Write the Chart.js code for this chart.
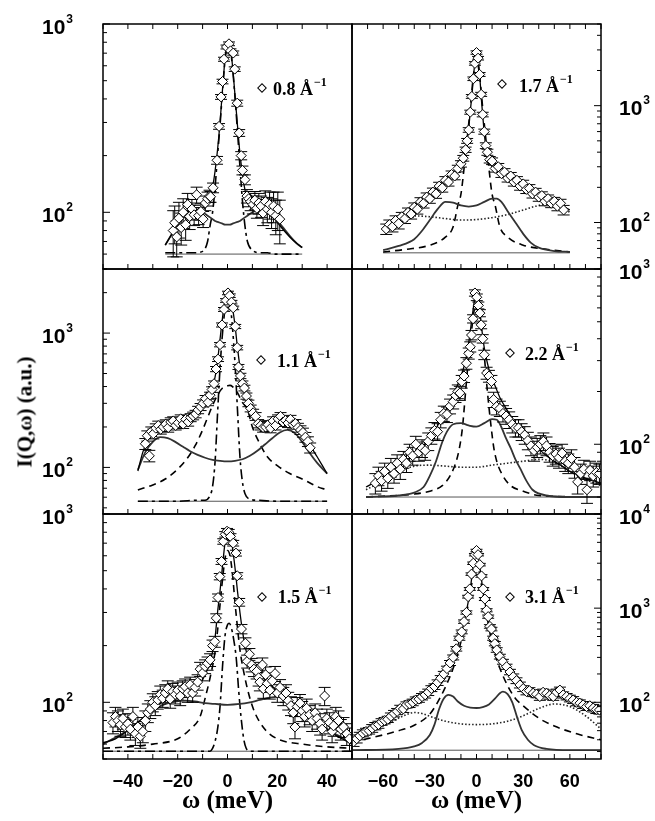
<!DOCTYPE html>
<html>
<head>
<meta charset="utf-8">
<script src="https://cdn.jsdelivr.net/npm/chart.js@4.4.0/dist/chart.umd.min.js"></script>
<style>
body { margin: 0; background: #fff; }
#wrap { position: relative; width: 655px; height: 821px; overflow: hidden; }
#wrap canvas { position: absolute; left: 0; top: 0; }
.lab { position: absolute; white-space: nowrap; color: #000; }
.yt { font: bold 21px/21px "Liberation Sans", Arial, sans-serif; }
.yt sup { font-size: 12px; vertical-align: baseline; position: relative; top: -11px; margin-left: 1px; }
.xt { font: bold 18px/18px "Liberation Sans", Arial, sans-serif; transform: translateX(-50%); }
.ttl { font: bold 25px/25px "Liberation Serif", "Times New Roman", serif; transform: translateX(-50%); }
.ytl { font: bold 21px/21px "Liberation Serif", "Times New Roman", serif; transform: translate(-50%, -50%) rotate(-90deg); }
.ql { font: bold 18px/18px "Liberation Serif", "Times New Roman", serif; }
.ql sup { font-size: 12px; vertical-align: baseline; position: relative; top: -9px; margin-left: 1px; }
.dia { position: absolute; width: 7px; height: 7px; box-sizing: border-box; border: 1.2px solid #000; background: #fff; transform: translate(-50%, -50%) rotate(45deg); }
</style>
</head>
<body>
<div id="wrap"></div>
<script>
// tick labels
var xTicksL = [-40, -20, 0, 20, 40];
var xTicksR = [-60, -30, 0, 30, 60];
var decades = [1, 2, 3, 4];

// ---- Q = 0.8
var p08W = [-21.8,-21.2,-20.4,-19.5,-18.6,-17.8,-16.8,-16.0,-15.2,-14.3,-13.4,-12.4,-11.6,-10.7,-9.8,-8.9,-8.0,-7.2,-6.8,-5.8,-4.2,-3.4,-2.6,-2.0,-1.4,-0.4,0.6,1.2,2.3,2.9,3.9,4.7,5.5,6.0,7.0,7.8,8.5,9.3,10.2,11.0,11.8,12.6,13.5,14.3,15.2,16.0,16.9,17.7,18.5,19.4,20.2,21.0];
var p08I = [80,88,74,93,83,100,86,110,95,104,97,124,96,101,92,112,118,122,121,135,189,286,410,495,650,755,785,720,701,576,380,264,200,167,149,122,118,114,110,116,105,112,108,99,114,104,110,100,108,96,104,92];
var p08E = [22,20,16,20,16,18,15,16,14,13,12,12,10,10,9,10,10,9,8,8,9,10,12,14,16,18,18,18,18,16,14,11,10,9,9,10,11,12,12,13,12,14,14,14,16,16,18,18,20,20,24,24];
var p08FitW = [-25,-22,-19,-16,-13,-10,-8,-7,-6,-5,-4,-3,-2,-1,0,1,2,3,4,5,6,7,8,10,13,16,19,22,25,28,30];
var p08Fit = [67,78,90,101,104,103,110,118,135,165,215,300,450,650,780,770,600,420,290,205,160,132,118,107,105,101,92,82,74,68,65];
var p08Dho = [67,78,90,100,103,100,96,94,92,90,89,88,87,86,86,86,87,88,89,90,92,94,96,100,103,102,94,84,75,68,65];
var p08El = [61,61,61,61,61,62,70,85,100,135,200,290,440,640,760,750,590,410,270,175,115,85,70,63,61,61,60,60,60,60,60];
var p08BgW = [-25, 30];
var p08Bg = [60, 60];

// ---- Q = 1.7
var p17W = [-58,-56,-54,-52,-50,-48,-46,-44,-42,-40,-38,-36,-34,-32,-30,-28,-26,-24,-22,-20,-18,-16,-14,-12,-10,-8.5,-7,-6,-5,-4,-3,-2,-1,0,1,2,3,4,5,6,7,8.5,10,12,14,16,18,20,22,24,26,28,30,32,34,36,38,40,42,44,46,48,50,52,54,56];
var p17I = [88,96,92,104,98,112,108,122,118,135,130,150,146,165,160,182,176,205,198,230,222,258,250,290,318,355,420,500,620,880,1200,1700,2300,2850,2550,1850,1250,840,600,455,400,345,335,290,300,262,270,240,250,222,230,205,214,192,196,176,182,165,170,152,160,146,152,138,146,128];
var p17E = [9,9,9,10,10,10,10,11,11,12,12,13,13,14,14,15,15,16,16,17,17,18,18,19,20,20,22,24,28,35,45,60,80,95,90,70,50,38,30,26,24,22,22,20,20,19,19,18,18,17,17,16,16,15,15,14,14,13,13,13,12,12,12,12,12,12];
var p17FitW = [-60,-55,-50,-45,-40,-35,-30,-25,-20,-16,-12,-10,-8,-6,-5,-4,-3,-2,-1,0,1,2,3,4,5,6,8,10,12,16,20,25,30,35,40,45,50,55,60];
var p17Fit = [90,102,114,127,140,158,175,200,228,255,285,310,360,520,640,900,1200,1750,2350,2800,2500,1850,1200,820,580,440,340,300,280,260,245,220,205,185,170,155,145,138,128];
var p17DhoW = [-60,-50,-40,-35,-30,-25,-20,-15,-10,-5,0,5,10,13,16,20,25,30,35,40,50,60];
var p17Dho = [58,63,72,85,105,130,150,148,140,137,140,150,160,160,150,125,100,80,67,61,57,56];
var p17DashW = [-60,-45,-30,-20,-15,-12,-10,-8,-6,-4,-2,0,2,4,6,8,10,12,15,20,30,45,60];
var p17Dash = [56,59,64,75,92,140,175,290,520,950,1800,2500,1800,950,520,290,175,140,92,75,64,59,56];
var p17DotW = [-60,-55,-50,-45,-40,-30,-20,-10,0,10,20,30,40,45,50,55,60];
var p17Dot = [88,100,108,113,114,112,108,105,106,110,117,128,140,143,142,136,122];
var p17BgW = [-60, 60];
var p17Bg = [55, 55];

// ---- Q = 1.1
var p11W = [-33,-32.2,-31.4,-30.6,-29.8,-28.8,-27.8,-26.8,-25.8,-24.8,-23.8,-22.8,-21.8,-20.8,-19.8,-18.8,-17.8,-16.8,-15.8,-14.8,-13.8,-12.8,-11.8,-10.8,-9.8,-8.8,-7.8,-7,-6.2,-5.4,-4.6,-3.8,-3,-2.2,-1.4,-0.6,0.2,0.9,1.6,2.3,3.1,3.9,4.4,5.2,6,6.8,7.6,8.4,9.3,10.3,11.3,12.3,13.3,14.3,15.3,16.3,17.3,18.3,19.3,20.3,21.3,22.3,23.3,24.3,25.3,26.3,27.3,28.3,29.3,30.3,31.3,32.3,33.2];
var p11I = [150,172,122,185,178,196,205,192,200,210,198,218,222,205,215,230,210,228,218,235,242,250,268,282,300,325,305,345,380,420,540,640,820,1150,1500,1750,1990,1900,1700,1540,1120,780,560,480,420,390,340,300,275,255,240,212,205,198,200,208,196,222,205,230,240,218,224,214,228,208,212,198,190,182,168,156,140];
var p11E = [14,15,12,15,15,15,16,15,15,16,15,16,16,15,16,16,15,16,15,16,16,16,17,17,18,18,17,18,18,20,24,26,30,40,50,55,60,58,52,48,40,30,24,22,20,19,18,17,16,16,16,15,15,15,15,15,15,16,15,16,16,16,16,16,16,15,15,15,14,14,14,13,12];
var p11FitW = [-36,-34,-32,-30,-27,-24,-21,-18,-15,-12,-10,-8,-6,-5,-4,-3,-2,-1,0,1,2,3,4,5,6,7,8,10,12,15,18,21,24,27,30,32,34,36,38,40];
var p11Fit = [94,130,160,180,198,207,215,222,232,255,280,320,400,470,620,900,1300,1750,1950,1900,1550,1150,780,560,430,360,310,260,225,205,205,212,212,205,190,160,138,120,104,90];
var p11DhoW = [-36,-33,-30,-27,-24,-21,-18,-15,-12,-9,-6,-3,0,3,6,9,12,15,18,21,24,27,30,33,36,40];
var p11Dho = [96,130,155,168,165,155,143,132,124,118,114,112,111,112,115,122,133,148,165,182,190,180,155,128,108,90];
var p11DashW = [-36,-30,-25,-20,-16,-13,-10,-8,-6,-4,-2,0,1,2,4,6,8,10,13,16,20,25,30,36,40];
var p11Dash = [68,74,82,97,118,145,190,235,290,345,390,405,408,400,360,305,270,200,150,120,103,90,82,72,68];
var p11ElW = [-36,-20,-12,-9,-7,-6,-5,-4,-3,-2,-1,0,1,2,3,4,5,6,7,9,12,20,40];
var p11El = [56,56,57,57,62,72,110,250,550,1000,1500,1750,1650,1100,600,270,120,78,64,58,57,56,56];
var p11BgW = [-36, 40];
var p11Bg = [56, 56];

// ---- Q = 2.2
var p22W = [-65,-63,-61,-59,-57,-55,-53,-51,-49,-47,-45,-43,-41,-39,-37,-35,-33,-31,-29,-27,-25,-23,-21,-19,-17,-15,-13.5,-12,-10.7,-9.5,-8,-6.5,-5,-4,-3.2,-2.2,-1,0.2,1.2,2.2,3,4,5,6.5,8,9.6,11,12.9,15,17,19,21,23,25,27,29,31,33,35,37,39,41,43,45,47,49,51,53,55,57,59,61,63,65,67,69,71,73,75,77,79];
var p22I = [60,66,62,70,64,74,68,78,72,82,78,90,86,100,90,95,92,104,112,120,118,138,150,148,165,175,190,200,196,228,245,290,330,360,420,520,730,690,620,560,480,400,324,255,245,228,180,164,160,150,145,138,130,124,124,118,113,105,98,92,96,100,104,98,90,86,88,84,89,80,78,83,74,61,68,72,55,71,66,69,68];
var p22E = [8,8,8,8,8,9,8,9,9,9,9,10,10,11,10,11,11,12,12,13,13,14,15,15,16,16,17,18,18,19,20,22,24,24,26,28,30,30,28,26,24,22,20,20,19,19,18,17,16,16,15,15,14,14,14,13,13,12,12,12,12,12,12,12,11,11,11,11,11,10,10,10,10,9,9,9,9,9,9,9,9];
var p22FitW = [-71,-65,-60,-55,-50,-45,-40,-35,-30,-25,-20,-15,-12,-9,-7,-5,-4,-3,-2,-1,0,1,2,3,4,5,7,9,12,15,20,25,30,35,40,45,50,55,60,65,70,75,80];
var p22Fit = [57,61,65,70,75,81,88,97,107,128,155,192,220,260,300,380,440,520,600,690,720,690,600,490,410,355,290,250,215,185,155,132,116,103,94,86,80,75,70,67,64,62,60];
var p22DhoW = [-71,-50,-40,-34,-30,-26,-22,-19,-15,-10,-5,0,5,10,13,16,19,22,25,28,32,36,45,60,80];
var p22Dho = [50,51,53,57,66,80,103,118,130,132,128,126,132,139,138,125,108,95,82,73,62,55,51,50,50];
var p22DashW = [-71,-40,-30,-22,-17,-13,-11,-9,-7,-5,-3,-1.5,0,1.5,3,5,7,9,11,13,17,22,30,40,80];
var p22Dash = [50,52,54,58,66,80,95,125,200,320,460,580,640,580,460,320,200,135,97,80,66,58,54,51,50];
var p22DotW = [-71,-60,-50,-40,-30,-20,-10,0,10,20,30,40,50,60,70,80];
var p22Dot = [55,62,70,75,76,75,74,74,76,78,80,82,79,70,63,58];
var p22BgW = [-71, 80];
var p22Bg = [50, 50];

// ---- Q = 1.5
var p15W = [-46,-45,-44,-43,-42,-41,-40,-39,-38,-37,-36,-35,-34,-33,-32,-31,-30,-29,-28,-27,-26,-25,-24,-23,-22,-21,-20,-19,-18,-17,-16,-15,-14,-13,-12,-11,-10,-9,-8,-7,-6,-5.1,-4.5,-3.8,-3.1,-2.4,-1.7,-0.9,-0.2,0.5,1.2,2.3,3.4,3.9,4.7,5.6,7.2,7.9,8.8,9.7,10.6,11.7,12.5,13,14,14.4,15.3,16,17,18,19.1,20,21.1,22.4,23.5,24.4,25.5,26.4,27.1,28,29.1,30,31,31.8,33,34,35.2,36,37.2,38,39,39.9,41,42,42.6,43.5,44.6,45.5,46.6,47.9,49];
var p15I = [78,84,80,76,82,74,77,72,84,68,74,66,70,80,88,92,100,96,103,110,105,112,118,104,114,110,116,108,118,121,112,124,112,120,128,150,143,155,161,168,200,210,280,360,465,560,715,780,810,800,760,700,620,470,340,245,206,165,180,158,150,146,135,128,158,118,140,126,116,130,142,112,120,108,112,102,96,88,74,95,99,90,84,93,86,80,88,82,77,72,108,82,78,70,75,84,80,72,74,68,64];
var p15E = [10,10,10,10,10,9,10,9,10,9,9,9,9,10,10,10,11,11,11,12,11,12,12,11,12,12,12,12,12,12,12,12,12,12,12,13,13,13,13,13,14,14,15,16,18,20,24,26,28,28,26,24,22,18,16,14,14,13,13,13,13,13,13,13,14,13,14,13,12,13,13,12,12,12,12,11,11,11,10,11,11,11,10,11,10,10,10,10,10,9,12,10,10,9,9,10,10,9,9,9,9];
var p15FitW = [-50,-45,-40,-35,-30,-25,-20,-15,-12,-10,-8,-6,-5,-4,-3,-2,-1,0,1,2,3,4,5,6,7,8,10,12,15,20,25,30,35,40,45,50];
var p15Fit = [61,64,71,80,93,102,107,112,122,132,150,185,220,300,390,530,700,800,780,660,520,390,300,240,200,178,158,145,132,115,100,89,79,71,65,60];
var p15DhoW = [-50,-45,-40,-35,-30,-25,-21,-17,-13,-9,-5,0,5,9,13,17,20,23,27,31,35,40,45,50];
var p15Dho = [60,65,71,80,90,98,101,102,101,99,98,97,98,100,103,106,107,104,97,88,80,72,66,61];
var p15DashW = [-50,-40,-30,-20,-15,-11,-9,-7,-5,-4,-3,-2,-1,0,1,2,3,4,5,7,9,11,15,20,30,40,50];
var p15Dash = [57,58,60,64,72,84,105,135,185,240,330,450,580,640,600,480,340,250,190,135,105,88,72,64,60,58,57];
var p15ElW = [-50,-9,-7,-6,-5,-4,-3,-2,-1,0,0.7,1.5,2.5,3.5,4.5,5.5,6.5,7.5,9,50];
var p15El = [55,55,55,57,62,72,95,155,225,258,263,250,215,172,115,82,64,57,55,55];
var p15BgW = [-50, 50];
var p15Bg = [55, 55];

// ---- Q = 3.1
var p31W = [-79,-77,-75,-73,-71,-69,-67,-65,-63,-61,-59,-57,-55,-53,-51,-49,-47,-45,-43,-41,-39,-37,-35,-33,-31,-29,-27,-25,-23,-21,-19,-17,-15,-13,-11,-9.5,-8,-6.5,-5.4,-4.3,-3.2,-2.1,-1,0,1,2.1,3.2,4.3,5.4,6.5,7.5,8.6,9.6,10.7,11.8,13,15,17,19.3,21.5,23.6,25.7,27.9,30,32.1,34,36.4,38.5,40.7,42.8,45,47,49.3,51.5,53.6,55.7,57.9,60,62.1,64.3,66.4,68.5,70.7,72.8,75,77,79];
var p31I = [38,41,44,47,49,50,53,56,58,62,64,66,71,76,80,86,85,94,96,100,106,108,115,120,128,140,147,162,180,200,228,262,300,370,480,560,720,900,1325,1600,2300,3000,3700,4100,3700,2900,2200,1600,1250,950,813,640,600,480,420,360,306,270,239,210,187,170,153,140,130,133,125,122,115,128,125,118,115,128,135,120,115,110,106,100,98,94,90,92,87,84,83];
var p31E = [4,4,4,4,4,4,5,5,5,5,5,5,6,6,6,7,7,7,8,8,8,8,9,9,10,10,10,11,12,13,14,16,18,20,24,26,30,36,45,55,70,90,110,120,110,90,70,55,45,36,32,28,26,24,22,20,18,16,15,14,13,12,11,10,10,10,10,10,10,10,10,10,10,10,10,9,9,9,9,8,8,8,8,8,8,8,8];
var p31FitW = [-80,-70,-60,-50,-45,-40,-35,-30,-25,-20,-15,-12,-9,-7,-5,-4,-3,-2,-1,0,1,2,3,4,5,7,9,12,15,20,25,30,35,40,45,50,55,60,65,70,75,80];
var p31Fit = [40,50,61,79,89,100,113,132,160,210,300,400,600,850,1250,1600,2150,2850,3600,4000,3600,2850,2150,1600,1250,850,600,410,310,215,165,142,130,123,120,118,113,106,97,90,83,77];
var p31DhoW = [-80,-50,-40,-35,-30,-27,-24,-21,-18,-15,-12,-8,-4,0,4,8,12,15,17,20,23,26,29,33,37,45,60,80];
var p31Dho = [31,32,34,37,45,58,85,110,120,115,102,92,88,87,89,95,110,125,130,122,100,70,51,40,35,32,31,31];
var p31DashW = [-80,-65,-50,-40,-30,-25,-20,-15,-12,-10,-8,-6,-4,-2,0,2,4,6,8,10,12,15,20,25,30,40,50,65,80];
var p31Dash = [38,43,50,57,75,100,145,230,330,440,620,950,1450,2300,3000,2300,1450,950,620,420,320,230,150,110,92,68,56,46,40];
var p31DotW = [-80,-70,-60,-50,-45,-40,-35,-30,-20,-10,0,10,20,30,40,50,60,70,80];
var p31Dot = [36,45,56,68,74,78,76,71,63,59,58,59,63,72,86,96,90,72,52];
var p31BgW = [-80, 80];
var p31Bg = [31, 31];

var panels = [
  { box: [103, 24, 352, 269], xr: [-50, 50], yr: [50, 1000], side: 'left', q: '0.8', dia: [261.7, 88.3], txt: [273, 95],
    pts: [p08W, p08I, p08E],
    lines: [['fit', p08FitW, p08Fit], ['dho', p08FitW, p08Dho], ['el', p08FitW, p08El], ['bg', p08BgW, p08Bg]] },
  { box: [352, 24, 601, 269], xr: [-80, 80], yr: [40, 5000], side: 'right', q: '1.7', dia: [502.3, 84], txt: [519, 91.5],
    pts: [p17W, p17I, p17E],
    lines: [['fit', p17FitW, p17Fit], ['dho', p17DhoW, p17Dho], ['dash', p17DashW, p17Dash], ['dot', p17DotW, p17Dot], ['bg', p17BgW, p17Bg]] },
  { box: [103, 269, 352, 514], xr: [-50, 50], yr: [45, 3000], side: 'left', q: '1.1', dia: [260.5, 360], txt: [277, 367],
    pts: [p11W, p11I, p11E],
    lines: [['fit', p11FitW, p11Fit], ['dho', p11DhoW, p11Dho], ['dash', p11DashW, p11Dash], ['el', p11ElW, p11El], ['bg', p11BgW, p11Bg]] },
  { box: [352, 269, 601, 514], xr: [-80, 80], yr: [40, 1000], side: 'right', q: '2.2', dia: [510, 352.7], txt: [525, 360],
    pts: [p22W, p22I, p22E],
    lines: [['fit', p22FitW, p22Fit], ['dho', p22DhoW, p22Dho], ['dash', p22DashW, p22Dash], ['dot', p22DotW, p22Dot], ['bg', p22BgW, p22Bg]] },
  { box: [103, 514, 352, 759], xr: [-50, 50], yr: [50, 1000], side: 'left', q: '1.5', dia: [261.7, 596.7], txt: [277.7, 603],
    pts: [p15W, p15I, p15E], xt: xTicksL,
    lines: [['fit', p15FitW, p15Fit], ['dho', p15DhoW, p15Dho], ['dash', p15DashW, p15Dash], ['el', p15ElW, p15El], ['bg', p15BgW, p15Bg]] },
  { box: [352, 514, 601, 759], xr: [-80, 80], yr: [25, 10000], side: 'right', q: '3.1', dia: [510, 596.7], txt: [525, 603],
    pts: [p31W, p31I, p31E], xt: xTicksR,
    lines: [['fit', p31FitW, p31Fit], ['dho', p31DhoW, p31Dho], ['dash', p31DashW, p31Dash], ['dot', p31DotW, p31Dot], ['bg', p31BgW, p31Bg]] }
];

var styles = {
  fit:  { borderColor: '#000', borderWidth: 1.3 },
  dho:  { borderColor: '#333', borderWidth: 1.8 },
  dash: { borderColor: '#000', borderWidth: 1.6, borderDash: [7, 5] },
  el:   { borderColor: '#000', borderWidth: 1.6, borderDash: [10, 4, 3, 4] },
  dot:  { borderColor: '#222', borderWidth: 1.6, borderDash: [1.5, 2] },
  bg:   { borderColor: '#555', borderWidth: 1 }
};

// frame + inward ticks
var frame = {
  id: 'frame',
  afterDatasetsDraw: function (chart, args, o) {
    var ctx = chart.ctx, a = chart.chartArea, x = chart.scales.x, y = chart.scales.y;
    ctx.save();
    ctx.strokeStyle = '#000';
    ctx.lineWidth = 1;
    ctx.beginPath();
    for (var v = Math.ceil(x.min / 10) * 10; v <= x.max; v += 10) {
      var px = x.getPixelForValue(v);
      ctx.moveTo(px, a.bottom); ctx.lineTo(px, a.bottom - 5);
      if (o.top) { ctx.moveTo(px, a.top); ctx.lineTo(px, a.top + 5); }
    }
    var ex = o.side === 'left' ? a.left : a.right, dir = o.side === 'left' ? 1 : -1;
    for (var d = 10; d <= 10000; d *= 10) {
      for (var k = 1; k < 10; k++) {
        var val = d * k;
        if (val < y.min || val > y.max) continue;
        var py = y.getPixelForValue(val);
        ctx.moveTo(ex, py); ctx.lineTo(ex + dir * (k === 1 ? 7 : 4), py);
      }
    }
    ctx.stroke();
    ctx.lineWidth = 1.5;
    ctx.strokeRect(a.left, a.top, a.right - a.left, a.bottom - a.top);
    ctx.restore();
  }
};

// error bars under the diamonds
var errBars = {
  id: 'errBars',
  beforeDatasetDraw: function (chart, args) {
    if (args.index !== 0) return;
    var ds = chart.data.datasets[0];
    var ctx = chart.ctx, a = chart.chartArea, x = chart.scales.x, y = chart.scales.y;
    ctx.save();
    ctx.beginPath();
    ctx.rect(a.left, a.top, a.right - a.left, a.bottom - a.top);
    ctx.clip();
    ctx.strokeStyle = '#000';
    ctx.lineWidth = 1;
    ctx.beginPath();
    ds.data.forEach(function (p, i) {
      var px = x.getPixelForValue(p.x), e = ds.err[i];
      var y1 = y.getPixelForValue(p.y - e), y2 = y.getPixelForValue(p.y + e);
      ctx.moveTo(px, y1); ctx.lineTo(px, y2);
      ctx.moveTo(px - 6, y1); ctx.lineTo(px + 6, y1);
      ctx.moveTo(px - 6, y2); ctx.lineTo(px + 6, y2);
    });
    ctx.stroke();
    ctx.restore();
  }
};

var wrap = document.getElementById('wrap');

function put(html, cls, css) {
  var d = document.createElement('div');
  d.className = 'lab ' + cls;
  d.innerHTML = html;
  for (var k in css) d.style[k] = css[k];
  wrap.appendChild(d);
  return d;
}

function xy(w, v) {
  return w.map(function (x, i) { return { x: x, y: v[i] }; });
}

panels.forEach(function (p) {
  var cv = document.createElement('canvas');
  cv.width = 655; cv.height = 821;
  cv.style.width = '655px'; cv.style.height = '821px';
  wrap.appendChild(cv);

  var sets = [{
    data: xy(p.pts[0], p.pts[1]),
    err: p.pts[2],
    showLine: false,
    pointStyle: 'rectRot',
    pointRadius: 5,
    pointBorderWidth: 1,
    pointBackgroundColor: '#fff',
    pointBorderColor: '#000',
    clip: 0
  }];
  p.lines.forEach(function (l) {
    var s = Object.assign({
      data: xy(l[1], l[2]),
      pointRadius: 0,
      fill: false,
      cubicInterpolationMode: 'monotone',
      clip: 0
    }, styles[l[0]]);
    sets.push(s);
  });

  var chart = new Chart(cv, {
    type: 'line',
    data: { datasets: sets },
    options: {
      responsive: false,
      animation: false,
      events: [],
      layout: { autoPadding: false, padding: { left: p.box[0], top: p.box[1], right: 655 - p.box[2], bottom: 821 - p.box[3] } },
      scales: {
        x: { type: 'linear', min: p.xr[0], max: p.xr[1], display: false },
        y: { type: 'logarithmic', min: p.yr[0], max: p.yr[1], display: false }
      },
      plugins: {
        legend: { display: false },
        tooltip: { enabled: false },
        frame: { side: p.side, top: p.box[1] < 30 }
      }
    },
    plugins: [frame, errBars]
  });

  var ys = chart.scales.y;
  decades.forEach(function (e) {
    var v = Math.pow(10, e);
    if (v < p.yr[0] || v > p.yr[1]) return;
    var py = ys.getPixelForValue(v);
    var css = { top: (py - 8.3) + 'px' };
    if (p.side === 'left') css.right = (655 - 73) + 'px'; else css.left = '619px';
    put('10<sup>' + e + '</sup>', 'yt', css);
  });

  if (p.xt) {
    var xs = chart.scales.x;
    p.xt.forEach(function (v) {
      put(v < 0 ? '\u2212' + Math.abs(v) : String(v), 'xt', { left: xs.getPixelForValue(v) + 'px', top: '772px' });
    });
    put('\u03c9 (meV)', 'ttl', { left: xs.getPixelForValue(0) + 'px', top: '787px' });
  }

  var dm = document.createElement('div');
  dm.className = 'dia';
  dm.style.left = p.dia[0] + 'px';
  dm.style.top = p.dia[1] + 'px';
  wrap.appendChild(dm);
  put(p.q + ' \u00c5<sup>\u22121</sup>', 'ql', { left: p.txt[0] + 'px', top: (p.txt[1] - 15) + 'px' });
});

put('I(Q,\u03c9) (a.u.)', 'ytl', { left: '25px', top: '412px' });
</script>
</body>
</html>
